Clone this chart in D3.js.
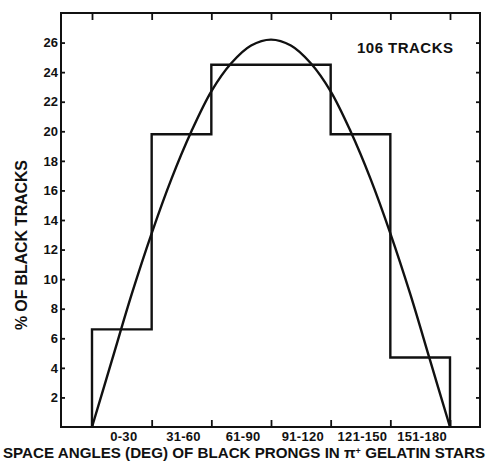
<!DOCTYPE html>
<html>
<head>
<meta charset="utf-8">
<script src="https://cdn.jsdelivr.net/npm/d3@7"></script>
<style>
  html, body { margin: 0; padding: 0; background: #fff; }
  svg { display: block; }
  text { font-family: "Liberation Sans", "DejaVu Sans", sans-serif; font-weight: bold; fill: #111; }
</style>
</head>
<body>
<svg id="chart" width="489" height="461"></svg>
<script>
// Angular bins (degrees) and their labels
const binEdges = [0, 30, 60, 90, 120, 150, 180];
const binLabels = ["0-30", "31-60", "61-90", "91-120", "121-150", "151-180"];
// Percentage of black tracks falling in each bin (106 tracks)
const binPercent = [6.6, 19.8, 24.5, 24.5, 19.8, 4.7];

// Smooth distribution curve: angle (deg) and percent
const curveAngle = [0, 10, 20, 30, 40, 50, 60, 70, 80, 90, 100, 110, 120, 130, 140, 150, 160, 170, 180];
const curvePercent = [0, 4.5, 9.0, 13.1, 16.8, 20.0, 22.7, 24.6, 25.8, 26.2, 25.8, 24.6, 22.7, 20.0, 16.8, 13.1, 9.0, 4.5, 0];

// Y axis ticks
const yTicks = [2, 4, 6, 8, 10, 12, 14, 16, 18, 20, 22, 24, 26];

const svg = d3.select("#chart");
const frame = { left: 61, right: 480, top: 13, bottom: 427 };

const x = d3.scaleLinear().domain([0, 180]).range([92, 450]);
const y = d3.scaleLinear().domain([0, 28]).range([frame.bottom, frame.top]);

const ink = "#111";

// Frame
svg.append("rect")
  .attr("x", frame.left).attr("y", frame.top)
  .attr("width", frame.right - frame.left).attr("height", frame.bottom - frame.top)
  .attr("fill", "none").attr("stroke", ink).attr("stroke-width", 2);

// Axes with inward ticks
const leftAxis = svg.append("g").attr("transform", `translate(${frame.left},0)`)
  .call(d3.axisRight(y).tickValues(yTicks).tickSize(4).tickFormat(""));
const rightAxis = svg.append("g").attr("transform", `translate(${frame.right},0)`)
  .call(d3.axisLeft(y).tickValues(yTicks).tickSize(4).tickFormat(""));
const topAxis = svg.append("g").attr("transform", `translate(0,${frame.top})`)
  .call(d3.axisBottom(x).tickValues(binEdges).tickSize(7).tickFormat(""));
const bottomAxis = svg.append("g").attr("transform", `translate(0,${frame.bottom})`)
  .call(d3.axisTop(x).tickValues(binEdges).tickSize(7).tickFormat(""));
[leftAxis, rightAxis, topAxis, bottomAxis].forEach(g => {
  g.select(".domain").remove();
  g.selectAll(".tick line").attr("stroke", ink).attr("stroke-width", 1.8);
});

// Y tick labels (outside the frame)
svg.append("g").selectAll("text").data(yTicks).join("text")
  .attr("x", frame.left - 3)
  .attr("y", d => y(d))
  .attr("dy", "0.36em")
  .attr("text-anchor", "end")
  .attr("font-size", 13)
  .text(d => d);

// X bin labels
svg.append("g").selectAll("text").data(binLabels).join("text")
  .attr("x", (d, i) => x((binEdges[i] + binEdges[i + 1]) / 2) + 2)
  .attr("y", 441)
  .attr("text-anchor", "middle")
  .attr("font-size", 13)
  .attr("letter-spacing", 0.3)
  .text(d => d);

// Histogram outline
const histPts = [[binEdges[0], 0]];
binPercent.forEach((v, i) => {
  histPts.push([binEdges[i], v]);
  histPts.push([binEdges[i + 1], v]);
});
histPts.push([binEdges[binEdges.length - 1], 0]);
svg.append("path")
  .attr("d", d3.line().x(d => x(d[0])).y(d => y(d[1]))(histPts))
  .attr("fill", "none").attr("stroke", ink).attr("stroke-width", 2.4)
  .attr("stroke-linejoin", "miter");

// Smooth curve
svg.append("path")
  .attr("d", d3.line().curve(d3.curveCatmullRom)
    .x((d, i) => x(curveAngle[i])).y(d => y(d))(curvePercent))
  .attr("fill", "none").attr("stroke", ink).attr("stroke-width", 2.4);

// Annotation
svg.append("text")
  .attr("x", 357).attr("y", 53)
  .attr("font-size", 15)
  .attr("textLength", 96).attr("lengthAdjust", "spacing")
  .text("106 TRACKS");

// Y axis title
svg.append("text")
  .attr("transform", "translate(27,245) rotate(-90)")
  .attr("text-anchor", "middle")
  .attr("font-size", 16)
  .attr("textLength", 170).attr("lengthAdjust", "spacing")
  .text("% OF BLACK TRACKS");

// X axis title
const xt = svg.append("text")
  .attr("x", 3).attr("y", 458)
  .attr("font-size", 15)
  .attr("textLength", 482).attr("lengthAdjust", "spacingAndGlyphs");
xt.append("tspan").text("SPACE ANGLES (DEG) OF BLACK PRONGS IN π");
xt.append("tspan").attr("dy", -4).attr("font-size", 9).text("+");
xt.append("tspan").attr("dy", 4).text(" GELATIN STARS");
</script>
</body>
</html>
